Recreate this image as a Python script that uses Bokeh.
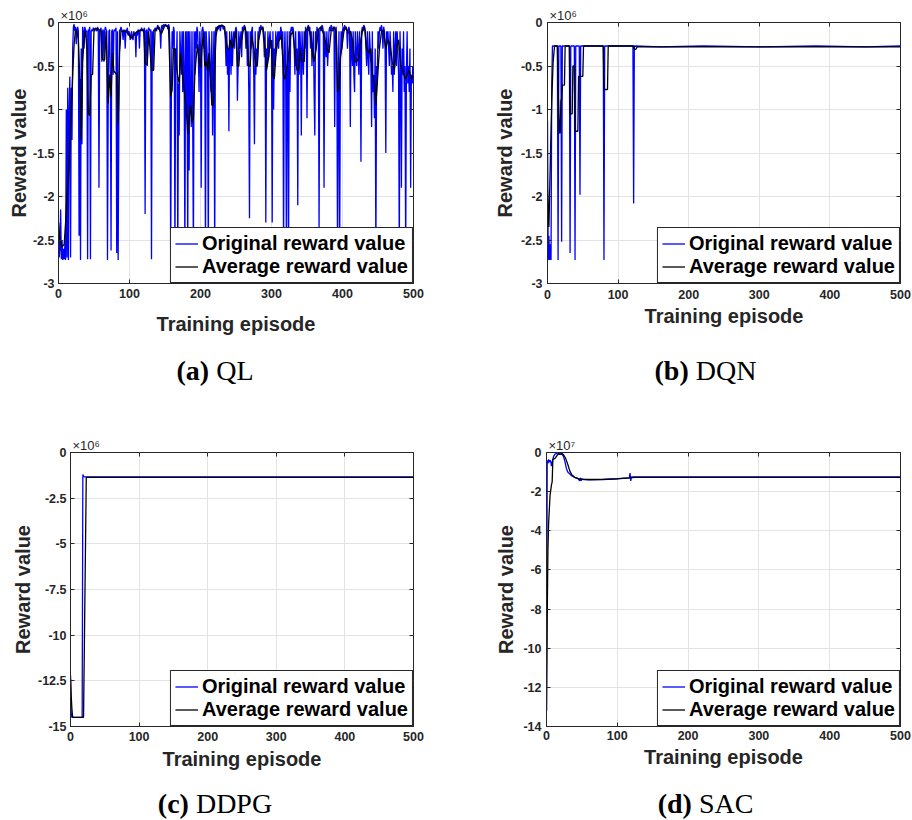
from bokeh.plotting import figure
from bokeh.models import FixedTicker, LinearAxis, Range1d, Div
from bokeh.layouts import column, row
from bokeh.embed import file_html
from bokeh.resources import INLINE

AX = "#262626"
GRID = "#e3e3e3"
BLUE = "#0000ff"
BLACK = "#000000"
SANS = "Liberation Sans"
SERIF = "Liberation Serif"

# ---------------- texts / ticks ----------------
episode_ticks = [0, 100, 200, 300, 400, 500]
legend_labels = ["Original reward value", "Average reward value"]
x_label = "Training episode"
y_label = "Reward value"
caption_letters = ["(a)", "(b)", "(c)", "(d)"]
method_names = ["QL", "DQN", "DDPG", "SAC"]
exponent_texts = ["\u00d710\u2076", "\u00d710\u2076", "\u00d710\u2076", "\u00d710\u2077"]

ql_ticks = [-3, -2.5, -2, -1.5, -1, -0.5, 0]
ql_tick_labels = ["-3", "-2.5", "-2", "-1.5", "-1", "-0.5", "0"]
dqn_ticks = [-3, -2.5, -2, -1.5, -1, -0.5, 0]
dqn_tick_labels = ["-3", "-2.5", "-2", "-1.5", "-1", "-0.5", "0"]
ddpg_ticks = [-15, -12.5, -10, -7.5, -5, -2.5, 0]
ddpg_tick_labels = ["-15", "-12.5", "-10", "-7.5", "-5", "-2.5", "0"]
sac_ticks = [-14, -12, -10, -8, -6, -4, -2, 0]
sac_tick_labels = ["-14", "-12", "-10", "-8", "-6", "-4", "-2", "0"]

# ---------------- data (reward, in units of the axis exponent) ----------------
# QL original reward, one value per episode 0..500 (x 10^6)
ql_original = [
    -2.3, -2.7, -2.6, -2.15, -2.72, -2.5, -2.73, -2.6, -2.72, -2.55,
    -2.73, -1.0, -2.7, -0.75, -2.73, -1.0, -0.62, -2.7, -0.75, -1.35,
    -0.3, -0.05, -0.02, -0.1, -0.05, -0.25, -0.08, -0.05, -0.1, -2.45,
    -0.65, -2.73, -0.3, -1.4, -0.05, -0.1, -0.3, -0.05, -0.08, -0.1,
    -0.1, -2.72, -0.08, -0.1, -0.05, -2.72, -0.1, -0.08, -0.1, -0.06,
    -0.08, -0.1, -0.06, -0.08, -0.1, -0.05, -0.08, -1.9, -0.1, -0.08,
    -0.06, -0.45, -0.1, -0.08, -0.45, -0.1, -0.05, -0.08, -0.1, -2.73,
    -0.9, -0.1, -0.08, -0.6, -2.62, -0.1, -0.08, -0.6, -0.1, -0.08,
    -0.1, -0.06, -2.65, -0.1, -2.73, -1.15, -0.08, -0.1, -0.05, -0.08,
    -0.1, -0.2, -0.08, -0.1, -0.3, -0.08, -0.1, -0.06, -0.15, -0.1,
    -0.12, -0.2, -0.15, -0.1, -0.18, -0.2, -0.1, -0.15, -0.12, -0.4,
    -0.1, -0.15, -0.08, -0.1, -0.3, -0.08, -0.1, -0.06, -0.1, -0.08,
    -0.1, -0.06, -2.2, -0.1, -0.08, -0.5, -0.1, -0.06, -0.08, -0.1,
    -0.08, -2.72, -0.1, -0.55, -0.08, -0.1, -0.06, -0.08, -0.1, -0.05,
    -0.03, -0.08, -0.05, -0.1, -0.3, -0.05, -0.03, -0.08, -0.02, -0.05,
    -0.03, -0.02, -0.05, -0.03, -0.08, -0.02, -0.05, -0.3, -2.73, -0.8,
    -0.1, -0.3, -0.05, -0.1, -2.73, -0.3, -0.5, -0.1, -2.73, -0.7,
    -1.3, -0.1, -0.35, -0.6, -0.1, -0.8, -0.1, -0.5, -2.73, -0.1,
    -1.0, -0.1, -2.73, -0.1, -1.7, -0.1, -0.9, -1.2, -0.1, -1.1,
    -2.73, -0.1, -0.6, -0.1, -0.3, -0.05, -0.1, -0.4, -0.8, -0.1,
    -0.3, -1.9, -0.1, -0.05, -0.1, -0.3, -0.1, -2.73, -0.1, -0.3,
    -0.5, -2.73, -0.1, -0.3, -0.6, -0.8, -0.1, -1.3, -0.5, -0.1,
    -2.73, -0.1, -0.05, -0.1, -0.05, -0.08, -0.03, -0.05, -0.1, -0.03,
    -0.05, -0.03, -0.08, -0.05, -0.1, -0.2, -0.5, -0.1, -0.6, -0.3,
    -1.25, -0.1, -0.3, -0.6, -0.1, -0.5, -0.2, -0.1, -0.3, -0.1,
    -0.05, -0.1, -0.9, -0.5, -0.1, -0.3, -0.2, -0.1, -0.4, -0.05,
    -0.1, -0.05, -0.03, -0.1, -0.3, -0.1, -0.5, -0.1, -0.8, -2.25,
    -0.1, -0.3, -0.1, -0.05, -0.3, -0.6, -1.4, -0.1, -0.6, -0.3,
    -0.5, -0.1, -0.2, -0.05, -0.1, -0.03, -0.08, -0.05, -0.1, -0.2,
    -0.4, -0.1, -2.3, -0.3, -0.5, -0.1, -0.4, -0.2, -0.1, -0.3,
    -0.2, -2.3, -0.1, -1.0, -0.3, -0.5, -0.1, -0.3, -0.2, -0.1,
    -0.3, -0.1, -0.2, -0.05, -0.1, -0.3, -0.1, -2.73, -0.4, -0.1,
    -0.6, -2.73, -0.1, -0.5, -2.73, -0.1, -0.8, -0.1, -0.05, -0.1,
    -0.05, -0.1, -0.3, -0.6, -0.1, -0.5, -0.3, -2.1, -0.1, -0.6,
    -0.1, -0.3, -1.3, -0.1, -0.4, -0.6, -0.1, -0.3, -0.05, -0.1,
    -1.1, -0.05, -0.03, -0.1, -0.05, -0.3, -0.1, -0.5, -0.3, -0.1,
    -0.8, -1.3, -0.1, -0.3, -0.05, -0.1, -0.08, -2.4, -0.1, -0.05,
    -0.1, -0.03, -0.05, -0.1, -1.9, -0.1, -0.3, -0.4, -0.1, -0.5,
    -0.3, -0.1, -0.05, -0.1, -0.03, -0.05, -0.1, -0.08, -0.05, -1.2,
    -0.1, -0.05, -0.3, -2.73, -0.8, -0.1, -2.73, -0.5, -0.1, -0.3,
    -0.1, -0.05, -0.1, -0.03, -0.08, -0.05, -0.1, -0.3, -0.1, -0.05,
    -0.1, -1.2, -0.1, -0.3, -0.5, -0.1, -0.6, -0.8, -0.1, -0.4,
    -0.5, -0.1, -0.3, -0.6, -0.1, -0.3, -1.6, -0.1, -0.05, -0.1,
    -0.03, -0.05, -0.1, -0.3, -0.5, -0.1, -0.4, -0.6, -0.1, -0.3,
    -0.5, -1.2, -0.1, -0.8, -0.6, -1.1, -0.3, -2.73, -0.5, -0.6,
    -0.1, -0.3, -0.1, -0.05, -0.1, -0.03, -0.1, -0.3, -0.05, -0.1,
    -0.3, -1.5, -0.1, -0.2, -0.1, -0.3, -0.5, -0.1, -0.3, -0.6,
    -0.5, -0.8, -0.1, -0.6, -0.3, -0.1, -0.5, -0.1, -0.3, -0.6,
    -2.73, -0.1, -0.5, -1.9, -0.3, -0.6, -0.1, -0.8, -0.5, -2.73,
    -0.6, -0.1, -0.7, -0.5, -0.8, -0.3, -1.9, -0.6, -0.7, -0.5,
    -0.7,
]

# QL average reward (episode, value x 10^6)
ql_average = [
    (0, -2.3), (2, -2.5), (5, -2.58), (8, -2.55), (10, -2.3), (12, -2.0), (14, -1.75),
    (16, -1.4), (18, -1.0), (20, -0.6), (22, -0.25), (24, -0.08), (26, -0.1), (28, -0.2),
    (30, -0.65), (31, -0.9), (32, -1.35), (34, -0.45), (36, -0.2), (38, -0.1), (40, -0.3),
    (42, -1.05), (44, -1.07), (46, -0.6), (48, -0.6), (50, -0.08), (55, -0.07), (60, -0.1),
    (62, -0.43), (65, -0.43), (67, -0.1), (70, -0.93), (72, -0.6), (74, -0.85), (76, -0.35),
    (78, -0.56), (80, -0.58), (82, -0.6), (84, -1.17), (86, -0.35), (88, -0.1), (95, -0.1),
    (100, -0.15), (103, -0.18), (108, -0.12), (112, -0.1), (118, -0.08), (120, -0.1),
    (122, -0.48), (125, -0.48), (127, -0.1), (131, -0.55), (134, -0.55), (136, -0.1),
    (140, -0.05), (145, -0.13), (150, -0.03), (155, -0.05), (158, -0.85), (160, -0.78),
    (162, -0.3), (164, -0.3), (166, -0.5), (168, -0.62), (170, -0.7), (172, -0.35),
    (174, -0.5), (176, -0.7), (178, -0.85), (180, -1.0), (182, -1.28), (184, -1.1),
    (186, -0.95), (188, -1.15), (190, -1.1), (192, -0.6), (194, -0.4), (196, -0.25),
    (198, -0.45), (200, -0.52), (202, -0.3), (204, -0.12), (206, -0.5), (208, -0.45),
    (210, -0.55), (212, -0.35), (214, -0.63), (216, -0.95), (218, -0.95), (220, -0.5),
    (222, -0.15), (224, -0.05), (230, -0.03), (234, -0.05), (236, -0.2), (238, -0.3),
    (240, -0.3), (242, -0.2), (245, -0.3), (248, -0.18), (250, -0.1), (252, -0.5),
    (254, -0.5), (256, -0.25), (258, -0.2), (260, -0.1), (263, -0.05), (266, -0.25),
    (268, -0.5), (270, -0.5), (272, -0.15), (275, -0.3), (278, -0.5), (280, -0.5),
    (282, -0.2), (285, -0.08), (288, -0.05), (291, -0.3), (293, -0.55), (296, -0.4),
    (298, -0.2), (300, -0.25), (302, -0.6), (304, -0.65), (306, -0.4), (308, -0.25),
    (311, -0.2), (314, -0.15), (317, -0.6), (319, -0.65), (321, -0.55), (323, -0.45),
    (325, -0.3), (327, -0.15), (330, -0.1), (333, -0.35), (336, -0.55), (338, -0.55),
    (340, -0.3), (343, -0.45), (346, -0.45), (348, -0.1), (352, -0.05), (356, -0.2),
    (358, -0.35), (360, -0.45), (363, -0.3), (366, -0.08), (370, -0.05), (374, -0.15),
    (378, -0.3), (381, -0.35), (384, -0.1), (388, -0.05), (391, -0.1), (393, -0.8),
    (395, -0.75), (397, -0.4), (399, -0.3), (402, -0.1), (405, -0.05), (408, -0.12),
    (411, -0.1), (414, -0.2), (417, -0.45), (420, -0.45), (423, -0.4), (426, -0.2),
    (428, -0.1), (431, -0.05), (434, -0.3), (437, -0.35), (440, -0.3), (442, -0.6),
    (445, -0.7), (447, -0.95), (449, -0.7), (452, -0.3), (455, -0.1), (458, -0.1),
    (461, -0.3), (464, -0.2), (467, -0.25), (470, -0.45), (473, -0.55), (476, -0.3),
    (479, -0.2), (482, -0.5), (485, -0.55), (488, -0.65), (491, -0.6), (494, -0.55),
    (497, -0.65), (500, -0.62),
]

# DQN (episode, value x 10^6)
dqn_original = [
    (0, -1.13), (1, -2.73), (2, -2.45), (3, -2.73), (4, -2.55), (5, -2.73), (6, -0.72),
    (7, -0.27), (14, -0.27), (15, -2.73), (16, -0.27), (19, -0.27), (20, -2.52),
    (21, -0.27), (31, -0.27), (32, -2.65), (33, -0.27), (38, -0.27), (39, -2.73),
    (40, -0.27), (45, -0.27), (46, -1.98), (47, -0.27), (79, -0.27), (80, -2.73),
    (81, -0.27), (121, -0.27), (122, -2.08), (123, -0.27), (160, -0.28), (220, -0.27),
    (300, -0.28), (380, -0.27), (450, -0.28), (500, -0.27),
]
dqn_average = [
    (0, -1.93), (2, -2.35), (4, -1.6), (6, -0.9), (8, -0.45), (10, -0.27), (14, -0.27),
    (15, -0.76), (17, -1.27), (18, -1.27), (19, -0.9), (20, -0.88), (21, -0.72),
    (24, -0.72), (25, -0.27), (31, -0.27), (32, -1.05), (35, -1.05), (36, -0.5),
    (38, -0.5), (39, -1.25), (43, -1.25), (44, -0.62), (50, -0.62), (51, -0.27),
    (79, -0.27), (80, -0.77), (85, -0.77), (86, -0.27), (122, -0.27), (123, -0.31),
    (125, -0.31), (127, -0.28), (500, -0.28),
]

# DDPG (episode, value x 10^6)
ddpg_original = [
    (0, -12.4), (1, -14.3), (2, -14.5), (17, -14.5), (18, -1.2), (19, -1.3),
    (20, -1.33), (500, -1.33),
]
ddpg_average = [
    (0, -12.2), (1, -13.3), (2, -14.0), (3, -14.45), (4, -14.5), (19, -14.5),
    (23, -1.36), (500, -1.36),
]

# SAC (episode, value x 10^7)
sac_original = [
    (0, -13.2), (1, -0.4), (2, -0.55), (3, -0.35), (4, -0.5), (5, -0.4), (6, -0.45),
    (7, -0.7), (8, -0.5), (9, -0.35), (10, -0.2), (12, -0.08), (14, -0.05), (17, -0.1),
    (20, -0.08), (22, -0.1), (24, -0.2), (26, -0.45), (28, -0.8), (30, -1.0), (33, -1.1),
    (36, -1.2), (40, -1.28), (44, -1.32), (47, -1.45), (48, -1.3), (49, -1.45),
    (50, -1.35), (52, -1.38), (60, -1.4), (80, -1.38), (100, -1.35), (117, -1.3),
    (118, -1.05), (119, -1.45), (120, -1.25), (500, -1.25),
]
sac_average = [
    (0, -13.2), (1, -8.5), (2, -5.0), (3, -3.6), (5, -2.2), (7, -1.65), (8, -1.5),
    (9, -0.35), (12, -0.3), (15, -0.15), (18, -0.02), (21, -0.03), (24, -0.12),
    (27, -0.3), (30, -0.6), (33, -0.95), (36, -1.15), (40, -1.27), (45, -1.33),
    (50, -1.36), (60, -1.38), (80, -1.37), (100, -1.34), (118, -1.3), (125, -1.27),
    (500, -1.27),
]


def split(pairs):
    xs, ys = zip(*pairs)
    return list(xs), list(ys)


def panel(w, h, borders, ylo, yticks, ylabels, exp_text, orig, avg, ystand, xstand):
    left, right, top, bottom = borders
    p = figure(width=w, height=h, x_range=Range1d(0, 500), y_range=Range1d(ylo, 0),
               output_backend="svg", toolbar_location=None,
               min_border_left=left, min_border_right=right,
               min_border_top=top, min_border_bottom=bottom,
               x_axis_label=x_label, y_axis_label=y_label, title=exp_text)
    p.background_fill_color = "white"
    p.border_fill_color = "white"
    p.outline_line_color = AX
    p.outline_line_alpha = 1
    p.outline_line_width = 1

    # axis multiplier shown above the top-left corner of the axes
    p.title.align = "left"
    p.title.offset = 2
    p.title.standoff = 0
    p.title.text_font = SANS
    p.title.text_font_style = "normal"
    p.title.text_font_size = "13px"
    p.title.text_color = AX

    xa = p.xaxis[0]
    ya = p.yaxis[0]
    xa.ticker = FixedTicker(ticks=episode_ticks)
    ya.ticker = FixedTicker(ticks=yticks)
    ya.major_label_overrides = {t: l for t, l in zip(yticks, ylabels)}
    for ax in (xa, ya):
        ax.axis_line_color = AX
        ax.major_tick_line_color = AX
        ax.major_tick_in = 4
        ax.major_tick_out = 0
        ax.minor_tick_line_color = None
        ax.major_label_text_font = SANS
        ax.major_label_text_font_style = "bold"
        ax.major_label_text_font_size = "12.5px"
        ax.major_label_text_color = AX
        ax.axis_label_text_font = SANS
        ax.axis_label_text_font_style = "bold"
        ax.axis_label_text_font_size = "20px"
        ax.axis_label_text_color = AX
    ya.major_label_standoff, ya.axis_label_standoff = ystand
    xa.major_label_standoff, xa.axis_label_standoff = xstand

    # box ticks on the top and right edges (MATLAB "box on")
    top_ax = LinearAxis(ticker=FixedTicker(ticks=episode_ticks), major_label_text_font_size="0px",
                        major_label_text_alpha=0, major_label_standoff=0, major_tick_in=4,
                        major_tick_out=0, axis_line_color=None, minor_tick_line_color=None,
                        major_tick_line_color=AX)
    right_ax = LinearAxis(ticker=FixedTicker(ticks=yticks), major_label_text_font_size="0px",
                          major_label_text_alpha=0, major_label_standoff=0, major_tick_in=4,
                          major_tick_out=0, axis_line_color=None, minor_tick_line_color=None,
                          major_tick_line_color=AX)
    p.add_layout(top_ax, "above")
    p.add_layout(right_ax, "right")

    p.xgrid.grid_line_color = GRID
    p.ygrid.grid_line_color = GRID
    p.xgrid.grid_line_width = 1
    p.ygrid.grid_line_width = 1

    ox, oy = orig
    axx, ayy = avg
    p.line(ox, oy, color=BLUE, line_width=1.3, legend_label=legend_labels[0])
    p.line(axx, ayy, color=BLACK, line_width=1.3, legend_label=legend_labels[1])

    lg = p.legend[0]
    lg.location = "bottom_right"
    lg.margin = 0
    lg.padding = 4
    lg.spacing = 0
    lg.label_text_font = SANS
    lg.label_text_font_style = "bold"
    lg.label_text_font_size = "20px"
    lg.label_text_color = BLACK
    lg.label_height = 23
    lg.glyph_height = 23
    lg.glyph_width = 23
    lg.label_standoff = 4
    lg.border_line_color = AX
    lg.border_line_width = 1
    lg.border_line_alpha = 1
    lg.background_fill_color = "white"
    lg.background_fill_alpha = 1
    return p


def caption(i, w, h, pad_l, pad_r, pad_t):
    html = (
        f'<div style="width:{w}px;box-sizing:border-box;padding:{pad_t}px {pad_r}px 0 {pad_l}px;'
        f'text-align:center;font-family:\'{SERIF}\';font-size:28px;line-height:28px;'
        f'color:#000;white-space:nowrap;"><b>{caption_letters[i]}</b> {method_names[i]}</div>'
    )
    return Div(text=html, width=w, height=h, margin=0)


ql_x = list(range(len(ql_original)))
fa = panel(456, 345, (58, 43, 22, 62), -3, ql_ticks, ql_tick_labels, exponent_texts[0],
           (ql_x, ql_original), split(ql_average), (4, 0), (5, 12))
fb = panel(456, 345, (91, 12, 22, 51), -3, dqn_ticks, dqn_tick_labels, exponent_texts[1],
           split(dqn_original), split(dqn_average), (5, 2), (6, 3))
fc = panel(456, 383, (70, 43, 57, 52), -15, ddpg_ticks, ddpg_tick_labels, exponent_texts[2],
           split(ddpg_original), split(ddpg_average), (4, 1), (5, 4))
fd = panel(456, 383, (90, 12, 51, 51), -14, sac_ticks, sac_tick_labels, exponent_texts[3],
           split(sac_original), split(sac_average), (5, 3), (4, 3))

ca = caption(0, 456, 50, 0, 26, 12)
cb = caption(1, 456, 50, 43, 0, 12)
cc = caption(2, 456, 42, 0, 26, 12)
cd = caption(3, 456, 42, 43, 0, 12)

layout = column(row(fa, fb), row(ca, cb), row(fc, fd), row(cc, cd))

open("out.html", "w").write(file_html(layout, INLINE))
